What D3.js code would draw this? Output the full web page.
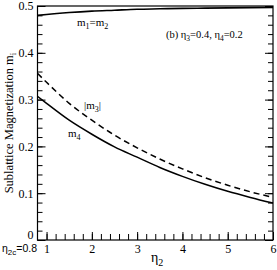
<!DOCTYPE html>
<html>
<head>
<meta charset="utf-8">
<script src="https://cdn.jsdelivr.net/npm/d3@7"></script>
<style>
  body { margin: 0; background: #fff; }
  svg { display: block; }
</style>
</head>
<body>
<div id="chart"></div>
<script>
// values
const eta2 = [0.8, 1.0, 1.5, 2.0, 2.5, 3.0, 3.5, 4.0, 4.5, 5.0, 5.5, 6.0]
const m12 = [0.480, 0.482, 0.486, 0.489, 0.491, 0.493, 0.494, 0.495, 0.4955, 0.496, 0.4965, 0.497]
const m3abs = [0.356, 0.337, 0.292, 0.256, 0.224, 0.197, 0.173, 0.152, 0.133, 0.117, 0.103, 0.091]
const m4 = [0.307, 0.292, 0.256, 0.226, 0.199, 0.177, 0.155, 0.136, 0.119, 0.104, 0.091, 0.079]

const xTicks = [1, 2, 3, 4, 5, 6]
const xMinor = d3.range(1.0, 6.01, 0.2)
const yTicks = [0, 0.1, 0.2, 0.3, 0.4, 0.5]
const yMinor = d3.range(0, 0.501, 0.02)

const width = 277, height = 270
const margin = {top: 6, right: 4, bottom: 30, left: 37.5}

const svg = d3.select('#chart').append('svg')
    .attr('width', width)
    .attr('height', height)

const x = d3.scaleLinear()
    .domain([0.8, 6])
    .range([margin.left, width - margin.right])

const y = d3.scaleLinear()
    .domain([0, 0.5])
    .range([height - margin.bottom, margin.top])

const serif = "'Liberation Serif', 'Times New Roman', serif"

// axes, ticks pointing inward
function styleAxis(g) {
    g.select('.domain').remove()
    g.selectAll('.tick line').attr('stroke', '#000').attr('stroke-width', 1)
    g.selectAll('.tick text')
        .attr('font-family', serif)
        .attr('font-size', 12)
        .attr('fill', '#000')
}

svg.append('g')
    .attr('transform', `translate(0,${y(0)})`)
    .call(d3.axisBottom(x).tickValues(xMinor).tickSize(-6).tickFormat(''))
    .call(styleAxis)

svg.append('g')
    .attr('transform', `translate(0,${y(0)})`)
    .call(d3.axisBottom(x).tickValues(xTicks).tickSize(-8).tickPadding(4).tickFormat(d3.format('d')))
    .call(styleAxis)

svg.append('g')
    .attr('transform', `translate(${x(0.8)},0)`)
    .call(d3.axisLeft(y).tickValues(yMinor).tickSize(-5).tickFormat(''))
    .call(styleAxis)

svg.append('g')
    .attr('transform', `translate(${x(0.8)},0)`)
    .call(d3.axisLeft(y).tickValues(yTicks).tickSize(-8).tickPadding(4)
        .tickFormat(d => d === 0 ? '0' : d3.format('.1f')(d)))
    .call(styleAxis)
    // the zero label sits a little above the corner
    .call(g => g.selectAll('.tick text').filter(d => d === 0).attr('y', -5))

svg.append('g')
    .attr('transform', `translate(${x(6)},0)`)
    .call(d3.axisRight(y).tickValues(yMinor).tickSize(-5).tickFormat(''))
    .call(styleAxis)

svg.append('g')
    .attr('transform', `translate(${x(6)},0)`)
    .call(d3.axisRight(y).tickValues(yTicks).tickSize(-8).tickFormat(''))
    .call(styleAxis)

// frame
svg.append('rect')
    .attr('x', x(0.8))
    .attr('y', y(0.5))
    .attr('width', x(6) - x(0.8))
    .attr('height', y(0) - y(0.5))
    .attr('fill', 'none')
    .attr('stroke', '#000')
    .attr('stroke-width', 1.2)

// curves
const line = (vals) => d3.line()
    .x((d, i) => x(eta2[i]))
    .y(d => y(d))
    .curve(d3.curveMonotoneX)(vals)

svg.append('path')
    .attr('d', line(m12))
    .attr('fill', 'none')
    .attr('stroke', '#000')
    .attr('stroke-width', 1.6)

svg.append('path')
    .attr('d', line(m3abs))
    .attr('fill', 'none')
    .attr('stroke', '#000')
    .attr('stroke-width', 1.5)
    .attr('stroke-dasharray', '6,4')

svg.append('path')
    .attr('d', line(m4))
    .attr('fill', 'none')
    .attr('stroke', '#000')
    .attr('stroke-width', 1.5)

// labels
const labels = svg.append('g')
    .attr('font-family', serif)
    .attr('fill', '#000')

const t1 = labels.append('text').attr('x', 77).attr('y', 26).attr('font-size', 11)
t1.append('tspan').text('m')
t1.append('tspan').attr('font-size', 8).attr('dy', 3).text('1')
t1.append('tspan').attr('dy', -3).text('=m')
t1.append('tspan').attr('font-size', 8).attr('dy', 3).text('2')

const t2 = labels.append('text').attr('x', 166).attr('y', 38).attr('font-size', 10.5)
t2.append('tspan').text('(b) η')
t2.append('tspan').attr('font-size', 7.5).attr('dy', 3).text('3')
t2.append('tspan').attr('dy', -3).text('=0.4, η')
t2.append('tspan').attr('font-size', 7.5).attr('dy', 3).text('4')
t2.append('tspan').attr('dy', -3).text('=0.2')

const t3 = labels.append('text').attr('x', 84).attr('y', 109).attr('font-size', 11)
t3.append('tspan').text('|m')
t3.append('tspan').attr('font-size', 8).attr('dy', 3).text('3')
t3.append('tspan').attr('dy', -3).text('|')

const t4 = labels.append('text').attr('x', 68).attr('y', 137).attr('font-size', 11)
t4.append('tspan').text('m')
t4.append('tspan').attr('font-size', 8).attr('dy', 3).text('4')

// axis titles
const xt = labels.append('text')
    .attr('x', 151).attr('y', 262).attr('font-size', 14)
xt.append('tspan').text('η')
xt.append('tspan').attr('font-size', 10).attr('dy', 4).text('2')

const yt = labels.append('text')
    .attr('transform', `translate(13,${(y(0) + y(0.5)) / 2}) rotate(-90)`)
    .attr('text-anchor', 'middle')
    .attr('font-size', 12.5)
yt.append('tspan').text('Sublattice Magnetization m')
yt.append('tspan').attr('font-size', 9).attr('dy', 3).text('i')

const ec = svg.append('text')
    .attr('x', 2).attr('y', 252)
    .attr('font-family', "'Liberation Sans', Arial, sans-serif")
    .attr('font-size', 10.5)
    .attr('fill', '#000')
ec.append('tspan').text('η')
ec.append('tspan').attr('font-size', 8).attr('dy', 3).text('2c')
ec.append('tspan').attr('dy', -3).text('=0.8')
</script>
</body>
</html>
